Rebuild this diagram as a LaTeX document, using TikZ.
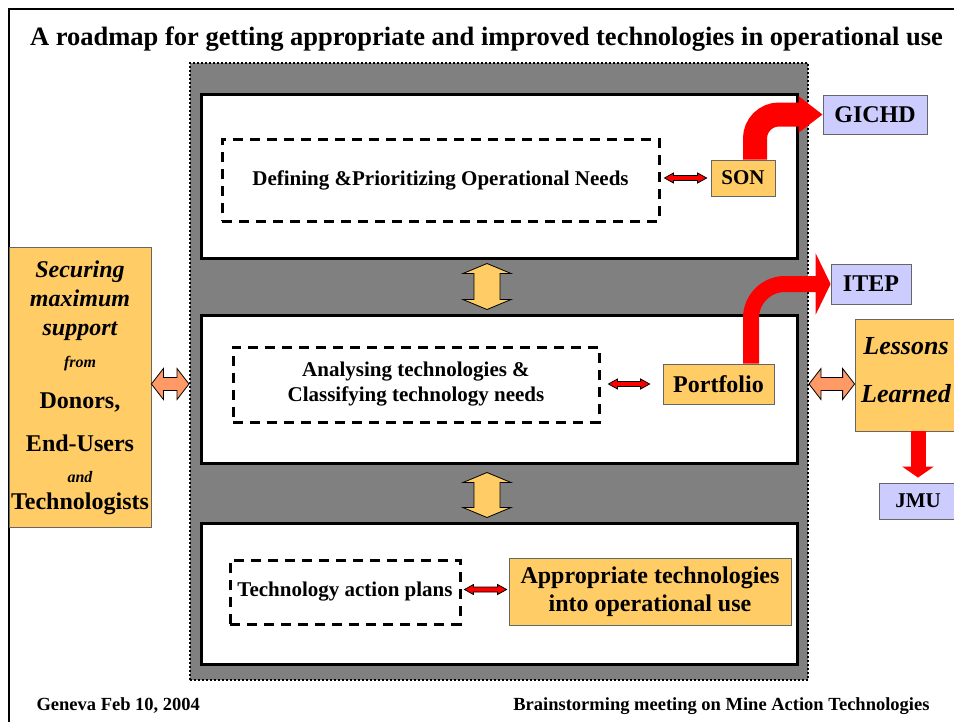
\documentclass[tikz,border=0pt]{standalone}
\usepackage{fontspec}
\setmainfont{Liberation Serif}
\usetikzlibrary{calc,arrows.meta}

\definecolor{boxorange}{RGB}{255,204,102}
\definecolor{boxlilac}{RGB}{204,204,255}
\definecolor{boxsalmon}{RGB}{255,153,102}
\definecolor{panelgray}{RGB}{128,128,128}

% horizontal block arrow with two heads: from, to, shaft half, head half, head length, style
\newcommand{\hdarrow}[6]{%
  \filldraw[#6] let \p1=(#1), \p2=(#2) in
    (\x1,\y1) -- (\x1+#5,\y1+#4) -- (\x1+#5,\y1+#3) -- (\x2-#5,\y1+#3) -- (\x2-#5,\y1+#4) -- (\x2,\y1)
    -- (\x2-#5,\y1-#4) -- (\x2-#5,\y1-#3) -- (\x1+#5,\y1-#3) -- (\x1+#5,\y1-#4) -- cycle;}
% vertical block arrow with two heads: top, bottom, shaft half, head half, head length, style
\newcommand{\vdarrow}[6]{%
  \filldraw[#6] let \p1=(#1), \p2=(#2) in
    (\x1,\y1) -- (\x1+#4,\y1-#5) -- (\x1+#3,\y1-#5) -- (\x1+#3,\y2+#5) -- (\x1+#4,\y2+#5) -- (\x1,\y2)
    -- (\x1-#4,\y2+#5) -- (\x1-#3,\y2+#5) -- (\x1-#3,\y1-#5) -- (\x1-#4,\y1-#5) -- cycle;}

\tikzset{
  panel/.style={draw, line width=3pt, fill=white, minimum width=596pt, inner sep=0pt},
  needbox/.style={draw, line width=3pt, dash pattern=on 10pt off 7pt, inner sep=0pt, align=center,
    font=\fontsize{21}{25}\selectfont\bfseries},
  orangebox/.style={draw=black!60, line width=0.8pt, fill=boxorange, inner sep=0pt, align=center},
  lilacbox/.style={draw=black!60, line width=0.8pt, fill=boxlilac, inner sep=0pt},
  redlink/.style={draw=black, line width=0.8pt, fill=red},
  salmonlink/.style={draw=black, line width=0.8pt, fill=boxsalmon},
  yellowlink/.style={draw=black, line width=0.8pt, fill=boxorange},
  big/.style={font=\fontsize{24}{28}\selectfont\bfseries},
  mid/.style={font=\fontsize{21}{25}\selectfont\bfseries},
  bigit/.style={font=\fontsize{24}{28}\selectfont\bfseries\itshape},
  smallit/.style={font=\fontsize{16}{19}\selectfont\bfseries\itshape},
}

\begin{document}
\begin{tikzpicture}[x=1pt, y=-1pt]
    \useasboundingbox (0,0) rectangle (954,721);
    \clip (0,0) rectangle (954,721);
    \fill[white] (0,0) rectangle (954,721);

    % Draw the slide frame
    \draw[line width=2pt] (9,740) |- (970,9);

    % Title and footer
    \node[anchor=base, font=\fontsize{26.5}{30}\selectfont\bfseries] (title) at (486.5,45)
        {A roadmap for getting appropriate and improved technologies in operational use};
    \node[anchor=base west, font=\fontsize{18.5}{22}\selectfont\bfseries] (date) at (33,710.5) {Geneva Feb 10, 2004};
    \node[anchor=base east, font=\fontsize{18.5}{22}\selectfont\bfseries] (meeting) at (933,710.5)
        {Brainstorming meeting on Mine Action Technologies};

    % Draw the gray frame and the three stages
    \node[draw, line width=2pt, dash pattern=on 2pt off 2pt, fill=panelgray,
          minimum width=618pt, minimum height=617pt] (outer) at (499,371.5) {};
    \node[panel, minimum height=164pt] (box1) at (499,176) {};
    \node[panel, minimum height=148pt] (box2) at (499,389) {};
    \node[panel, minimum height=141pt] (box3) at (499,593.5) {};

    % Dashed activity boxes
    \node[needbox, minimum width=437pt, minimum height=82pt] (need) at (440.5,180)
        {Defining \&Prioritizing Operational Needs};
    \node[needbox, minimum width=366pt, minimum height=75pt] (analyse) at (416,384.5)
        {Analysing technologies \&\\Classifying technology needs};
    \node[needbox, minimum width=230pt, minimum height=64pt] (plans) at (345,592) {Technology action plans};

    % Outputs of each stage
    \node[orangebox, mid, minimum width=64pt, minimum height=36pt] (son) at (743,178) {SON};
    \node[orangebox, big, minimum width=111pt, minimum height=40pt] (port) at (718.5,384) {Portfolio};
    \node[orangebox, big, minimum width=282pt, minimum height=67pt] (approp) at (650,591.5)
        {Appropriate technologies\\into operational use};

    % Partners on the right
    \node[lilacbox, big, minimum width=104pt, minimum height=39pt] (gichd) at (875,114.5) {GICHD};
    \node[lilacbox, big, minimum width=80pt, minimum height=40pt] (itep) at (871,284) {ITEP};
    \node[lilacbox, mid, minimum width=78pt, minimum height=36pt] (jmu) at (918,501) {JMU};
    \node[orangebox, minimum width=102pt, minimum height=112pt] (lessons) at (906,375) {};
    \node[anchor=base, font=\fontsize{26}{30}\selectfont\bfseries\itshape] (lesA) at (906,354) {Lessons};
    \node[anchor=base, font=\fontsize{26}{30}\selectfont\bfseries\itshape] (lesB) at (906,402) {Learned};

    % Support box on the left
    \node[orangebox, minimum width=142pt, minimum height=280pt] (support) at (80,387) {};
    \node[anchor=base, bigit] (supA) at (80,277.5) {Securing};
    \node[anchor=base, bigit] (supB) at (80,306) {maximum};
    \node[anchor=base, bigit] (supC) at (80,335) {support};
    \node[anchor=base, smallit] (supD) at (80,367.5) {from};
    \node[anchor=base, big] (supE) at (80,408) {Donors,};
    \node[anchor=base, big] (supF) at (80,451.5) {End-Users};
    \node[anchor=base, smallit] (supG) at (80,482.5) {and};
    \node[anchor=base, big] (supH) at (80,509.5) {Technologists};

    % Small red links inside the stages
    \hdarrow{$(need.east |- son.west)+(4,0)$}{$(son.west)+(-4,0)$}{2.5pt}{5pt}{9pt}{redlink}
    \hdarrow{$(analyse.east |- port.west)+(8,0)$}{$(port.west)+(-13,0)$}{2.5pt}{5pt}{9pt}{redlink}
    \hdarrow{$(plans.east |- approp.west)+(3,-2)$}{$(approp.west)+(-2,-2)$}{2.5pt}{5pt}{9pt}{redlink}

    % Links between the stages
    \vdarrow{$(box1.south)+(-12,4)$}{$(box2.north)+(-12,-4)$}{13pt}{24pt}{10pt}{yellowlink}
    \vdarrow{$(box2.south)+(-12,8)$}{$(box3.north)+(-12,-4)$}{13pt}{24pt}{10pt}{yellowlink}

    % Links to the side boxes
    \hdarrow{support.east |- port.center}{outer.west |- port.center}{6.5pt}{15.5pt}{12pt}{salmonlink}
    \hdarrow{outer.east |- port.center}{lessons.west |- port.center}{6.5pt}{15.5pt}{12pt}{salmonlink}

    % Big red arrows
    \draw[red, line width=24pt, rounded corners=24pt, -{Triangle[width=35pt,length=24pt]}]
        ([xshift=12pt]son.north) |- (gichd.west);
    \draw[red, line width=16pt, rounded corners=34pt, -{Triangle[width=61pt,length=15pt]}]
        ([xshift=32.5pt]port.north) |- (itep.west);
    \draw[red, line width=15pt, -{Triangle[width=31pt,length=11pt]}, shorten >=5pt]
        (jmu.north |- lessons.south) -- (jmu.north);
\end{tikzpicture}
\end{document}
